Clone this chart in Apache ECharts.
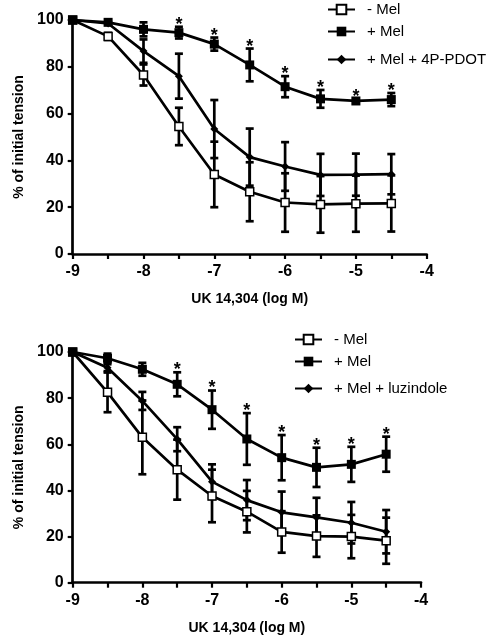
<!DOCTYPE html>
<html>
<head>
<meta charset="utf-8">
<script src="https://cdn.jsdelivr.net/npm/echarts@6/dist/echarts.min.js"></script>
<style>
html,body{margin:0;padding:0;background:#fff;}
#chart{width:495px;height:642px;}
</style>
</head>
<body>
<div id="chart"></div>
<script>
// ---- data ----
const xVals = [-9, -8.5, -8, -7.5, -7, -6.5, -6, -5.5, -5, -4.5];
const xTicks = [-9, -8, -7, -6, -5, -4];
const yTicks = [0, 20, 40, 60, 80, 100];

// top panel (4P-PDOT)
const topMinusMel    = [100, 93, 76.5, 54.5, 34, 26.6, 22, 21.2, 21.5, 21.6];
const topMinusMelErr = [0, 1.5, 4.5, 8, 14, 12.6, 12.5, 12.1, 12, 12];
const topPlusMel     = [100, 99, 96, 94.6, 89.7, 80.8, 71.5, 66.3, 65.4, 66];
const topPlusMelErr  = [0, 0.6, 3, 2.5, 2.8, 7, 4.5, 3.8, 1, 2.8];
const topPdot        = [100, 98.5, 86.7, 76, 53.4, 41.4, 37.4, 33.8, 33.9, 34.1];
const topPdotErr     = [0, 0.5, 5, 9.6, 12.4, 12.2, 10.4, 9, 9, 8.6];
const topStarIdx     = [3, 4, 5, 6, 7, 8, 9];

// bottom panel (luzindole)
const botMinusMel    = [100, 82.5, 63, 49, 37.6, 30.8, 22, 20.2, 20, 18.2];
const botMinusMelErr = [0, 8.6, 16, 13, 11.4, 9, 9, 9, 9.4, 10];
const botPlusMel     = [100, 97.3, 92.5, 86, 75, 62.3, 54.2, 50, 51.3, 55.7];
const botPlusMelErr  = [0, 2, 2.8, 5.2, 8.3, 11.2, 9.8, 8.5, 7.6, 7.6];
const botLuz         = [100, 93.2, 78.8, 62.2, 43.8, 35.8, 30.5, 28.3, 26, 22.1];
const botLuzErr      = [0, 1.5, 3.9, 5.2, 7.5, 8.7, 9, 8.5, 9, 9.4];
const botStarIdx     = [3, 4, 5, 6, 7, 8, 9];

const names = {minus: '- Mel', plus: '+ Mel', pdot: '+ Mel + 4P-PDOT', luz: '+ Mel + luzindole'};
const xTitle = 'UK 14,304 (log M)';
const yTitle = '% of initial tension';

// ---- styles ----
const FONT = '"Liberation Sans", Arial, sans-serif';
const BLACK = '#000';
const LW = 2.7;

const styles = {
  minus: {symbol: 'rect', symbolSize: 8, itemStyle: {color: '#fff', borderColor: BLACK, borderWidth: 1.5}},
  plus:  {symbol: 'rect', symbolSize: 9, itemStyle: {color: BLACK, borderColor: BLACK, borderWidth: 0}},
  diam:  {symbol: 'diamond', symbolSize: 8, itemStyle: {color: BLACK, borderColor: BLACK, borderWidth: 0}}
};

function lineSeries(name, vals, st, gi) {
  return Object.assign({
    type: 'line', name: name,
    xAxisIndex: gi, yAxisIndex: gi,
    data: xVals.map((x, i) => [x, vals[i]]),
    lineStyle: {color: BLACK, width: LW},
    showAllSymbol: true,
    z: 5,
    animation: false
  }, st);
}

function errSeries(vals, errs, gi) {
  return {
    type: 'custom', xAxisIndex: gi, yAxisIndex: gi, z: 3, silent: true, animation: false,
    data: xVals.map((x, i) => [x, vals[i], errs[i]]),
    encode: {x: 0, y: 1},
    renderItem: function (params, api) {
      const x = api.value(0), m = api.value(1), e = api.value(2);
      if (!e) return null;
      const top = api.coord([x, m + e]);
      const bot = api.coord([x, m - e]);
      const hw = 4;
      const st = {stroke: BLACK, lineWidth: LW};
      return {type: 'group', children: [
        {type: 'line', shape: {x1: top[0], y1: top[1], x2: bot[0], y2: bot[1]}, style: st},
        {type: 'line', shape: {x1: top[0] - hw, y1: top[1], x2: top[0] + hw, y2: top[1]}, style: st},
        {type: 'line', shape: {x1: bot[0] - hw, y1: bot[1], x2: bot[0] + hw, y2: bot[1]}, style: st}
      ]};
    }
  };
}

function starSeries(vals, errs, idx, gi) {
  return {
    type: 'custom', xAxisIndex: gi, yAxisIndex: gi, z: 6, silent: true, animation: false,
    data: idx.map(i => [xVals[i], vals[i] + errs[i]]),
    encode: {x: 0, y: 1},
    renderItem: function (params, api) {
      const p = api.coord([api.value(0), api.value(1)]);
      return {type: 'text', style: {text: '*', x: p[0], y: p[1] - 2, align: 'center', verticalAlign: 'middle',
        font: 'bold 18px ' + FONT, fill: BLACK}};
    }
  };
}

function xAxis(gi, gap) {
  return {
    type: 'value', gridIndex: gi, min: -9, max: -4, interval: 0.5,
    name: xTitle, nameLocation: 'middle', nameGap: gap,
    nameTextStyle: {fontFamily: FONT, fontWeight: 'bold', fontSize: 14, color: BLACK},
    axisLine: {onZero: false, lineStyle: {color: BLACK, width: LW}},
    axisTick: {show: true, length: 5, lineStyle: {color: BLACK, width: 2.2}},
    axisLabel: {margin: 10, fontFamily: FONT, fontWeight: 'bold', fontSize: 16, color: BLACK,
      formatter: v => (xTicks.indexOf(v) >= 0 ? String(v) : '')},
    splitLine: {show: false}
  };
}
function yAxis(gi) {
  return {
    type: 'value', gridIndex: gi, min: yTicks[0], max: yTicks[yTicks.length - 1], interval: 20,
    name: yTitle, nameLocation: 'middle', nameGap: 42,
    nameTextStyle: {fontFamily: FONT, fontWeight: 'bold', fontSize: 14, color: BLACK},
    axisLine: {show: true, lineStyle: {color: BLACK, width: LW}},
    axisTick: {show: true, length: 5, lineStyle: {color: BLACK, width: 2.2}},
    axisLabel: {margin: 9, fontFamily: FONT, fontWeight: 'bold', fontSize: 16, color: BLACK},
    splitLine: {show: false}
  };
}

function legend(name, left, top) {
  return {
    data: [name], left: left, top: top, orient: 'vertical', padding: 0,
    itemWidth: 27, itemHeight: 12, selectedMode: false,
    textStyle: {fontFamily: FONT, fontSize: 15, color: BLACK, padding: [0, 0, 0, 7]}
  };
}

const chart = echarts.init(document.getElementById('chart'), null, {renderer: 'canvas'});
chart.setOption({
  backgroundColor: '#fff',
  animation: false,
  grid: [
    {left: 72.7, right: 68.3, top: 20, height: 234, containLabel: false},
    {left: 72.7, right: 74, top: 352, height: 230.7, containLabel: false}
  ],
  xAxis: [xAxis(0, 38), xAxis(1, 38)],
  yAxis: [yAxis(0), yAxis(1)],
  legend: [
    legend(names.minus, 327, 2),
    legend(names.plus, 327, 24),
    legend(names.pdot, 327, 52),
    legend(names.minus, 294, 332),
    legend(names.plus, 294, 354),
    legend(names.luz, 294, 381)
  ],
  series: [
    errSeries(topMinusMel, topMinusMelErr, 0),
    errSeries(topPlusMel, topPlusMelErr, 0),
    errSeries(topPdot, topPdotErr, 0),
    lineSeries(names.minus, topMinusMel, styles.minus, 0),
    lineSeries(names.plus, topPlusMel, styles.plus, 0),
    lineSeries(names.pdot, topPdot, styles.diam, 0),
    starSeries(topPlusMel, topPlusMelErr, topStarIdx, 0),

    errSeries(botMinusMel, botMinusMelErr, 1),
    errSeries(botPlusMel, botPlusMelErr, 1),
    errSeries(botLuz, botLuzErr, 1),
    lineSeries(names.minus, botMinusMel, styles.minus, 1),
    lineSeries(names.plus, botPlusMel, styles.plus, 1),
    lineSeries(names.luz, botLuz, styles.diam, 1),
    starSeries(botPlusMel, botPlusMelErr, botStarIdx, 1)
  ]
});
</script>
</body>
</html>
